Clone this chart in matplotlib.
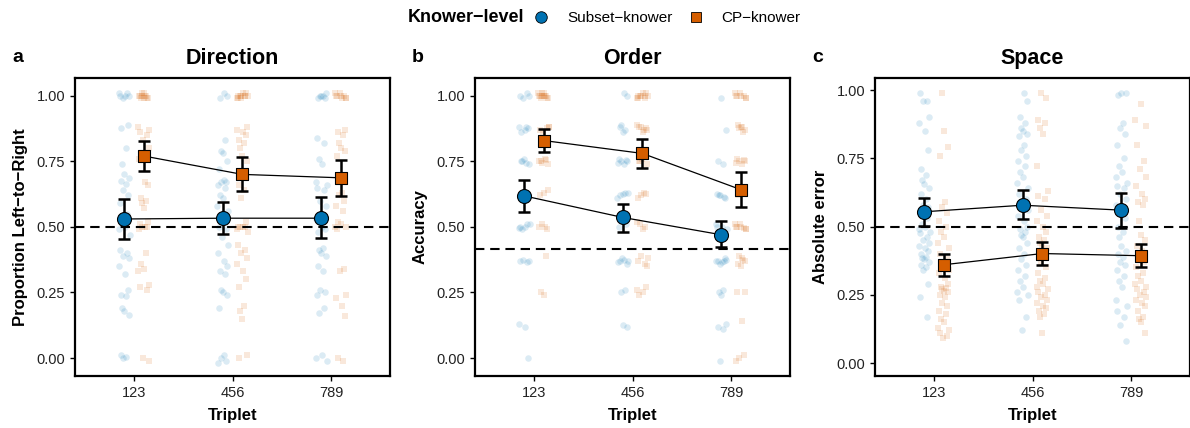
#######################################
# 1. modules
#######################################
import matplotlib
matplotlib.use("Agg")
import matplotlib.pyplot as plt
from matplotlib.lines import Line2D

#######################################
# 2. settings / data
#######################################
OUT_PNG = "out.png"
BLUE = "#0072B2"
ORANGE = "#D55E00"
FONT = ["Liberation Sans", "DejaVu Sans"]

TRIPLETS = ["123", "456", "789"]
KNOWERS = ["Subset\u2212knower", "CP\u2212knower"]
LEGEND_TITLE = "Knower\u2212level"

# a. Direction
DIR_SUB_MEAN = [0.530, 0.533, 0.533]
DIR_SUB_LO = [0.454, 0.471, 0.456]
DIR_SUB_HI = [0.607, 0.594, 0.613]
DIR_CP_MEAN = [0.770, 0.700, 0.687]
DIR_CP_LO = [0.714, 0.636, 0.618]
DIR_CP_HI = [0.827, 0.768, 0.756]
DIR_SUB_RAW = [
    [1.0, 1.01, 0.99, 1.0, 1.01, 1.0, 0.89, 0.875, 0.80, 0.74, 0.70, 0.685, 0.675, 0.665, 0.64, 0.62,
     0.59, 0.55, 0.51, 0.50, 0.49, 0.47, 0.41, 0.40, 0.39, 0.38, 0.35, 0.32, 0.26, 0.24, 0.235, 0.19,
     0.18, 0.165, 0.01, 0.005, 0.0],
    [1.01, 1.0, 0.99, 0.83, 0.79, 0.78, 0.75, 0.72, 0.68, 0.67, 0.67, 0.66, 0.65, 0.62, 0.61, 0.58,
     0.56, 0.50, 0.49, 0.46, 0.43, 0.40, 0.37, 0.35, 0.33, 0.32, 0.26, 0.25, 0.24, 0.19, 0.01, 0.0,
     -0.01, -0.02],
    [1.0, 1.01, 0.99, 1.0, 1.0, 0.99, 0.84, 0.82, 0.76, 0.74, 0.67, 0.66, 0.65, 0.64, 0.60, 0.58,
     0.53, 0.50, 0.49, 0.48, 0.42, 0.41, 0.40, 0.39, 0.35, 0.33, 0.26, 0.25, 0.24, 0.19, 0.17, 0.01,
     0.0, -0.01],
]
DIR_CP_RAW = [
    [1.0, 1.01, 0.99, 1.0, 1.0, 1.01, 0.99, 1.0, 1.0, 0.99, 0.99, 0.88, 0.87, 0.86, 0.85, 0.83, 0.80,
     0.76, 0.67, 0.66, 0.61, 0.60, 0.59, 0.57, 0.52, 0.51, 0.50, 0.50, 0.50, 0.49, 0.40, 0.36, 0.34,
     0.33, 0.28, 0.27, 0.26, 0.0, -0.01],
    [1.0, 1.01, 0.99, 1.0, 1.0, 1.01, 0.99, 1.0, 1.0, 1.0, 0.99, 0.88, 0.87, 0.86, 0.85, 0.83, 0.82,
     0.80, 0.77, 0.75, 0.66, 0.64, 0.61, 0.52, 0.50, 0.50, 0.50, 0.50, 0.49, 0.48, 0.43, 0.41, 0.40,
     0.38, 0.36, 0.33, 0.30, 0.27, 0.20, 0.18, 0.15, 0.01, 0.0],
    [1.0, 1.01, 0.99, 1.0, 1.0, 1.01, 0.99, 1.0, 0.99, 0.87, 0.86, 0.85, 0.82, 0.80, 0.79, 0.77, 0.63,
     0.62, 0.60, 0.58, 0.56, 0.52, 0.51, 0.50, 0.50, 0.49, 0.34, 0.33, 0.24, 0.23, 0.20, 0.16, 0.0,
     -0.01],
]

# b. Order
ORD_SUB_MEAN = [0.618, 0.536, 0.470]
ORD_SUB_LO = [0.556, 0.480, 0.423]
ORD_SUB_HI = [0.680, 0.586, 0.522]
ORD_CP_MEAN = [0.829, 0.780, 0.642]
ORD_CP_LO = [0.786, 0.726, 0.574]
ORD_CP_HI = [0.873, 0.835, 0.709]
ORD_SUB_RAW = [
    [1.0, 1.01, 0.99, 1.0, 0.88, 0.87, 0.875, 0.86, 0.88, 0.75, 0.76, 0.74, 0.75, 0.745, 0.63, 0.62,
     0.50, 0.51, 0.49, 0.50, 0.495, 0.51, 0.37, 0.365, 0.375, 0.37, 0.13, 0.12, 0.0],
    [1.01, 1.0, 0.88, 0.87, 0.89, 0.86, 0.75, 0.76, 0.74, 0.75, 0.755, 0.745, 0.63, 0.62, 0.625,
     0.61, 0.63, 0.50, 0.51, 0.38, 0.37, 0.365, 0.375, 0.36, 0.37, 0.26, 0.25, 0.125, 0.12],
    [0.99, 0.87, 0.75, 0.74, 0.62, 0.61, 0.625, 0.615, 0.62, 0.50, 0.51, 0.49, 0.50, 0.37, 0.36,
     0.375, 0.37, 0.365, 0.38, 0.37, 0.26, 0.25, 0.24, 0.13, 0.12, 0.11, -0.01],
]
ORD_CP_RAW = [
    [1.0, 1.01, 0.99, 1.0, 1.0, 1.01, 0.99, 1.0, 1.0, 0.99, 1.0, 1.01, 0.88, 0.87, 0.875, 0.86, 0.88,
     0.75, 0.76, 0.74, 0.75, 0.755, 0.745, 0.63, 0.64, 0.62, 0.50, 0.51, 0.49, 0.50, 0.39, 0.25,
     0.24],
    [1.0, 1.01, 0.99, 1.0, 1.0, 1.01, 0.99, 1.0, 1.0, 0.99, 0.88, 0.87, 0.89, 0.86, 0.875, 0.88, 0.87,
     0.75, 0.76, 0.74, 0.75, 0.63, 0.62, 0.625, 0.61, 0.50, 0.51, 0.49, 0.52, 0.38, 0.37, 0.36, 0.39,
     0.35, 0.26, 0.25, 0.27, 0.24],
    [1.0, 1.01, 0.99, 1.0, 1.0, 1.01, 0.99, 1.0, 0.88, 0.87, 0.89, 0.86, 0.875, 0.88, 0.75, 0.76,
     0.74, 0.75, 0.755, 0.745, 0.63, 0.62, 0.50, 0.51, 0.49, 0.50, 0.495, 0.51, 0.49, 0.50, 0.38,
     0.37, 0.36, 0.375, 0.39, 0.35, 0.25, 0.25, 0.14, 0.0, 0.01, -0.01],
]

# c. Space
SPA_SUB_MEAN = [0.554, 0.578, 0.560]
SPA_SUB_LO = [0.502, 0.529, 0.496]
SPA_SUB_HI = [0.606, 0.634, 0.623]
SPA_CP_MEAN = [0.360, 0.401, 0.393]
SPA_CP_LO = [0.320, 0.359, 0.350]
SPA_CP_HI = [0.401, 0.444, 0.437]
SPA_SUB_RAW = [
    [0.99, 0.96, 0.96, 0.90, 0.88, 0.85, 0.78, 0.71, 0.69, 0.67, 0.655, 0.64, 0.62, 0.60, 0.58, 0.57,
     0.55, 0.53, 0.51, 0.50, 0.49, 0.48, 0.475, 0.46, 0.45, 0.44, 0.43, 0.42, 0.41, 0.40, 0.39, 0.385,
     0.38, 0.37, 0.36, 0.35, 0.34, 0.29, 0.24, 0.17],
    [0.99, 0.96, 0.90, 0.88, 0.86, 0.85, 0.84, 0.83, 0.80, 0.78, 0.76, 0.74, 0.72, 0.70, 0.68, 0.66,
     0.64, 0.62, 0.60, 0.58, 0.56, 0.54, 0.52, 0.50, 0.49, 0.48, 0.47, 0.46, 0.44, 0.42, 0.40, 0.38,
     0.36, 0.34, 0.32, 0.30, 0.28, 0.26, 0.25, 0.23, 0.17, 0.12],
    [0.99, 0.99, 0.98, 0.88, 0.86, 0.84, 0.80, 0.75, 0.72, 0.70, 0.68, 0.66, 0.65, 0.64, 0.62, 0.60,
     0.58, 0.56, 0.53, 0.50, 0.48, 0.46, 0.43, 0.41, 0.40, 0.39, 0.37, 0.36, 0.34, 0.32, 0.30, 0.28,
     0.23, 0.21, 0.19, 0.17, 0.14, 0.08],
]
SPA_CP_RAW = [
    [0.99, 0.85, 0.79, 0.76, 0.59, 0.57, 0.55, 0.52, 0.50, 0.48, 0.46, 0.44, 0.42, 0.40, 0.38, 0.36,
     0.34, 0.33, 0.31, 0.29, 0.28, 0.275, 0.27, 0.265, 0.26, 0.25, 0.24, 0.22, 0.21, 0.19, 0.18, 0.16,
     0.15, 0.13, 0.12, 0.11, 0.10, 0.09],
    [0.99, 0.97, 0.89, 0.88, 0.86, 0.84, 0.72, 0.63, 0.61, 0.60, 0.56, 0.54, 0.52, 0.50, 0.48, 0.46,
     0.45, 0.44, 0.43, 0.42, 0.41, 0.39, 0.37, 0.35, 0.33, 0.31, 0.30, 0.29, 0.28, 0.27, 0.26, 0.25,
     0.24, 0.23, 0.22, 0.21, 0.20, 0.19, 0.18, 0.17, 0.11],
    [0.95, 0.89, 0.87, 0.80, 0.74, 0.71, 0.68, 0.65, 0.62, 0.60, 0.59, 0.58, 0.52, 0.47, 0.45, 0.43,
     0.41, 0.39, 0.37, 0.35, 0.33, 0.32, 0.30, 0.29, 0.28, 0.27, 0.26, 0.25, 0.24, 0.23, 0.22, 0.21,
     0.19, 0.17, 0.16, 0.15, 0.11],
]

# horizontal jitter pattern (category units)
JITTER = [-0.04, 0.03, -0.01, 0.05, -0.05, 0.01, 0.04, -0.03, 0.02, -0.02, 0.0, 0.045, -0.035,
          0.015, -0.015, 0.035, -0.045, 0.025, -0.025, 0.005, -0.055, 0.055]

PANELS = [
    dict(letter="a", title="Direction", ylabel="Proportion Left\u2212to\u2212Right", chance=0.5,
         ylim=(-0.0686, 1.0675),
         sub=(DIR_SUB_RAW, DIR_SUB_MEAN, DIR_SUB_LO, DIR_SUB_HI),
         cp=(DIR_CP_RAW, DIR_CP_MEAN, DIR_CP_LO, DIR_CP_HI)),
    dict(letter="b", title="Order", ylabel="Accuracy", chance=5 / 12,
         ylim=(-0.0686, 1.0675),
         sub=(ORD_SUB_RAW, ORD_SUB_MEAN, ORD_SUB_LO, ORD_SUB_HI),
         cp=(ORD_CP_RAW, ORD_CP_MEAN, ORD_CP_LO, ORD_CP_HI)),
    dict(letter="c", title="Space", ylabel="Absolute error", chance=0.5,
         ylim=(-0.0476, 1.044),
         sub=(SPA_SUB_RAW, SPA_SUB_MEAN, SPA_SUB_LO, SPA_SUB_HI),
         cp=(SPA_CP_RAW, SPA_CP_MEAN, SPA_CP_LO, SPA_CP_HI)),
]


#######################################
# 3. helpers
#######################################
def draw_panel(ax, panel):
    groups = [(panel["sub"], BLUE, "o", -0.1, 78), (panel["cp"], ORANGE, "s", 0.1, 58)]

    # raw jittered points
    for k, (data, color, marker, dodge, _) in enumerate(groups):
        raw = data[0]
        for i, vals in enumerate(raw):
            xs = [i + 1 + dodge + JITTER[(j + 5 * i + 9 * k) % len(JITTER)] for j in range(len(vals))]
            ax.scatter(xs, vals, s=22, marker=marker, color=color, alpha=0.14,
                       linewidths=0, zorder=1)

    ax.axhline(panel["chance"], color="black", lw=1.5, ls=(0, (4.5, 2.8)), zorder=2)

    # means + 95% CI
    for data, color, marker, dodge, size in groups:
        _, mean, lo, hi = data
        xs = [i + 1 + dodge for i in range(len(mean))]
        yerr = [[m - l for m, l in zip(mean, lo)], [h - m for m, h in zip(mean, hi)]]
        ax.plot(xs, mean, color="black", lw=0.9, zorder=3)
        ax.errorbar(xs, mean, yerr=yerr, fmt="none", ecolor="black", elinewidth=1.8,
                    capsize=4, capthick=1.8, zorder=4)
        ax.scatter(xs, mean, s=size * 1.3, marker=marker, color=color, edgecolors="black",
                   linewidths=0.8, zorder=5)

    ax.set_xlim(0.4, 3.6)
    ax.set_ylim(*panel["ylim"])
    ax.set_xticks([1, 2, 3])
    ax.set_xticklabels(TRIPLETS)
    ax.set_yticks([0, 0.25, 0.5, 0.75, 1.0])
    ax.set_yticklabels(["0.00", "0.25", "0.50", "0.75", "1.00"])
    ax.tick_params(labelsize=10.5, color="black", length=3.5, width=1, labelcolor="#222222")
    for sp in ax.spines.values():
        sp.set_linewidth(1.6)
        sp.set_color("black")

    ax.set_title(panel["title"], fontsize=15.5, fontweight="bold", pad=10)
    ax.set_xlabel("Triplet", fontsize=12, fontweight="bold")
    ax.set_ylabel(panel["ylabel"], fontsize=12, fontweight="bold")
    ax.xaxis.set_label_coords(0.5, -0.107)
    ax.yaxis.set_label_coords(-0.149, 0.5)
    ax.text(-0.181, 1.07, panel["letter"], transform=ax.transAxes, fontsize=14,
            fontweight="bold", ha="center", va="center")


#######################################
# 4. main
#######################################
def main():
    plt.rcParams["font.family"] = FONT
    fig = plt.figure(figsize=(11.9, 4.28), dpi=100)

    lefts = [75, 475, 875]
    for left, panel in zip(lefts, PANELS):
        ax = fig.add_axes([left / 1190, 52 / 428, 315 / 1190, 298 / 428])
        draw_panel(ax, panel)

    # legend across the top
    fig.text(408 / 1190, 1 - 18 / 428, LEGEND_TITLE, fontsize=13, fontweight="bold",
             ha="left", va="center")
    handles = [
        Line2D([], [], ls="", marker="o", markersize=8.3, markerfacecolor=BLUE,
               markeredgecolor="black", markeredgewidth=0.6),
        Line2D([], [], ls="", marker="s", markersize=7.2, markerfacecolor=ORANGE,
               markeredgecolor="black", markeredgewidth=0.6),
    ]
    fig.legend(handles, KNOWERS, loc="center left", bbox_to_anchor=(526 / 1190, 1 - 18 / 428),
               ncol=2, frameon=False, fontsize=11, handletextpad=0.7, columnspacing=0.5,
               borderaxespad=0, borderpad=0)

    fig.savefig(OUT_PNG, dpi=100)


#######################################
# 5. run
#######################################
if __name__ == "__main__":
    main()
